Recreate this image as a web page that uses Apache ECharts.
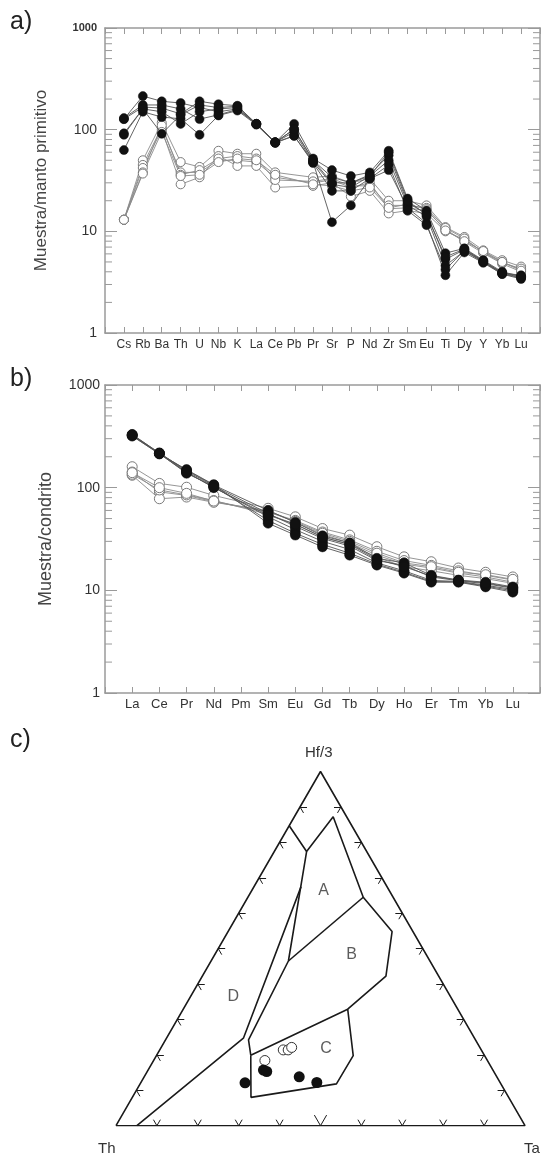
<!DOCTYPE html>
<html><head><meta charset="utf-8">
<script src="https://cdn.jsdelivr.net/npm/echarts@6/dist/echarts.min.js"></script>
<style>html,body{margin:0;padding:0;background:#fff}#c{width:543px;height:1158px}</style>
</head><body><div id="c"></div>
<script>
// ---------- Panel a: multielement diagram (normalised to primitive mantle) ----------
const CATS_A = ['Cs','Rb','Ba','Th','U','Nb','K','La','Ce','Pb','Pr','Sr','P','Nd','Zr','Sm','Eu','Ti','Dy','Y','Yb','Lu'];
const A_F1 = [127,214,190,183,165,150,160,114,75,114,52,40,35,38,62,21,16,6.1,6.8,5.2,4.0,3.6];
const A_F2 = [127,167,163,143,190,178,172,114,75,101,50,34,30,36,56,19,15,5.3,6.6,5.1,3.9,3.7];
const A_F3 = [89,160,150,114,150,160,165,114,75,87,48,29,27,35,50,18,14,4.6,6.4,5.0,3.9,3.5];
const A_F4 = [63,150,133,128,89,138,154,112,74,87,47,25,25,33,40,17,12,3.7,6.2,4.9,3.8,3.4];
const A_F5 = [130,175,175,160,127,140,158,114,75,95,48,12.3,18,33,45,16,11.5,4.2,6.5,5.0,3.8,3.5];
const A_F6 = [92,160,91,140,175,165,170,114,75,101,50,30,30,35,60,20,14.5,5.6,6.7,5.1,3.9,3.6];
const A_O1 = [13,50,117,48,43,62,58,58,38,null,34,35,30,33,20,20,18,11,8.8,6.5,5.2,4.5];
const A_O2 = [13,45,105,38,38,50,50,48,34,null,30,32,27,30,16.7,17,16,10.5,7.9,6.1,4.8,4.0];
const A_O3 = [13,42,100,29,34,55,44,44,27,null,28,30,22,25,15,16,15,10,8.3,6.3,5.0,4.2];
const A_O4 = [13,38,110,36,40,52,55,52,32,null,31,33,28,28,18,18,17,10.8,8.5,6.2,4.9,4.3];
const A_O5 = [13,37,95,35,36,48,52,50,36,null,29,28,25,27,17,18.5,16.5,10.2,8.0,6.4,5.0,4.1];

// ---------- Panel b: REE diagram (normalised to chondrite) ----------
const CATS_B = ['La','Ce','Pr','Nd','Pm','Sm','Eu','Gd','Tb','Dy','Ho','Er','Tm','Yb','Lu'];
const B_F1 = [325,216,148,106,null,60,46,34,29,20.5,18.5,14,12.6,12,10.8];
const B_F2 = [330,218,145,104,null,56,42,32,27,19.5,17.5,13.5,12.4,11.6,10.5];
const B_F3 = [320,214,140,101,null,52,39,30,25,18.5,15.5,12.5,12.2,11.2,10.2];
const B_F4 = [325,215,138,103,null,48,36,28,23,18,15,12.2,12.1,11,9.9];
const B_F5 = [318,213,150,107,null,45,34.5,26.5,22,17.6,14.7,12,12,10.8,9.6];
const B_F6 = [328,217,142,100,null,54,44,33,28,20,17,13.8,12.5,11.8,10.6];
const B_O1 = [160,110,101,84,null,63,52,40,34.5,26.6,21.2,19,16.5,15,13.5];
const B_O2 = [142,91,84,73,null,58,48,37,31,24,19.5,17.5,15.5,14,12.6];
const B_O3 = [132,78,81,72,null,60,46,35,29,22,18,16.5,14.7,13.5,12];
const B_O4 = [135,95,85,75,null,55,44,33,28,21,17,15.5,14,13,11.7];
const B_O5 = [140,100,88,74,null,58,47,36,30,23,18.5,17,15,14.2,12.8];

const MINOR_TICKS = [2,3,4,5,6,7,8,9,20,30,40,50,60,70,80,90,200,300,400,500,600,700,800,900];

// ---------- Panel c: Th - Hf/3 - Ta ternary (percent: [Th, Hf/3, Ta]) ----------
const TRIANGLE = [[100,0,0],[0,100,0],[0,0,100],[100,0,0]];
const BOUND_1 = [[15.3,84.7,0],[14.7,77.4,7.9],[3.3,87.2,9.5],[7.3,64.5,28.2],[5.1,54.8,40.1],[12.9,42.2,44.9],[26.9,32.9,40.2]];
const BOUND_2 = [[14.7,77.4,7.9],[34.6,46.5,18.9],[55.5,24.2,20.3],[57.1,19.9,23.0]];
const BOUND_3 = [[7.3,64.5,28.2],[34.6,46.5,18.9]];
const BOUND_4 = [[21.0,67.5,11.5],[56.5,24.7,18.8],[94.9,0,5.1]];
const BOUND_5 = [[57.1,19.9,23.0],[26.9,32.9,40.2],[32.1,19.8,48.1],[40.2,11.8,48.0],[63.0,8.0,29.0],[57.1,19.9,23.0]];
const FIELD_NAMES = ['A','B','C','D'];
const FIELD_POS = [[16.0,66.5,17.5],[18.3,48.2,33.5],[37.7,21.9,40.4],[53.1,36.4,10.5]];
const TERN_OPEN = [[54.4,18.4,27.2],[48.4,21.4,30.2],[47.2,21.4,31.4],[46.0,22.1,31.9]];
const TERN_FILLED = [[56.1,15.7,28.2],[55.5,15.3,29.2],[62.4,12.1,25.5],[48.3,13.8,37.9],[44.8,12.2,43.0]];
const TERN_STEPS = [10,20,30,40,50,60,70,80,90];

const SQ3 = Math.sqrt(3)/2;
function tern(t){ const s=t[0]+t[1]+t[2]; const hf=t[1]/s, ta=t[2]/s; return [ta+hf/2, hf*SQ3]; }

const FONT = 'Liberation Sans, Arial, sans-serif';
const AX = '#9a9a9a';

function seriesXY(arr){ return arr.map((v,i)=>[i+1, v]); }
function lineSeries(arr, filled, xi, yi, size){
  return {type:'line', xAxisIndex:xi, yAxisIndex:yi, data:seriesXY(arr), connectNulls:true,
    symbol:'circle', symbolSize:size, showSymbol:true, z: filled?4:3,
    lineStyle:{color: filled?'#555':'#8a8a8a', width:0.9},
    itemStyle: filled?{color:'#111', borderColor:'#111', borderWidth:0.5, opacity:1}:{color:'#fff', borderColor:'#7a7a7a', borderWidth:1, opacity:1}};
}
function minorTicks(xMax, xi, yi){
  return {type:'custom', xAxisIndex:xi, yAxisIndex:yi, silent:true, clip:false, z:2,
    data: MINOR_TICKS.map(v=>[0,v]),
    renderItem:function(params, api){
      const v = api.value(1);
      const p0 = api.coord([0, v]), p1 = api.coord([xMax, v]);
      return {type:'group', children:[
        {type:'line', shape:{x1:p0[0], y1:p0[1], x2:p0[0]+7, y2:p0[1]}, style:{stroke:AX, lineWidth:1}},
        {type:'line', shape:{x1:p1[0]-7, y1:p1[1], x2:p1[0], y2:p1[1]}, style:{stroke:AX, lineWidth:1}}
      ]};
    }};
}
function xAx(grid, max, cats, pos, fs, margin){
  return {type:'value', gridIndex:grid, position:pos, min:0, max:max, interval:1,
    axisLine:{show:true, onZero:false, lineStyle:{color:AX, width:1.5}},
    axisTick:{show:true, inside:true, length:6, lineStyle:{color:AX, width:1}},
    splitLine:{show:false},
    axisLabel:{show: pos==='bottom', fontFamily:FONT, fontSize:fs, color:'#333', margin:margin,
      formatter:function(v){ return cats[v-1] || ''; }}};
}
function yAx(grid, pos, name, nameGap, nameSize, labSize, margin, smallTop){
  return {type:'log', logBase:10, gridIndex:grid, position:pos, min:1, max:1000,
    axisLine:{show:true, onZero:false, lineStyle:{color:AX, width:1.5}},
    axisTick:{show:true, inside:true, length:12, lineStyle:{color:AX, width:1}},
    splitLine:{show:false}, minorTick:{show:false},
    name: pos==='left'?name:'', nameLocation:'middle', nameGap:nameGap, nameRotate:90,
    nameTextStyle:{fontFamily:FONT, fontSize:nameSize, color:'#444'},
    axisLabel:{show: pos==='left', fontFamily:FONT, fontSize:labSize, color:'#333', margin:margin,
      formatter:function(v){ return (smallTop && v===1000) ? '{s|1000}' : String(v); },
      rich:{s:{fontSize:11, fontFamily:FONT, color:'#333', fontWeight:'bold'}}}};
}

// ternary tick segments
const L = 0.017;
const tickSegs = [];
TERN_STEPS.forEach(p=>{
  const f = p/100;
  const lb = (p===50)?0.03:L;
  tickSegs.push({coords:[[f,0],[f-lb*0.5, lb*SQ3]]});
  tickSegs.push({coords:[[f,0],[f+lb*0.5, lb*SQ3]]});
  const lx = 0.5*f, ly = SQ3*f;
  tickSegs.push({coords:[[lx,ly],[lx+L, ly]]});
  tickSegs.push({coords:[[lx,ly],[lx+L*0.5, ly-L*SQ3]]});
  const rx = 1-0.5*f, ry = SQ3*f;
  tickSegs.push({coords:[[rx,ry],[rx-L, ry]]});
  tickSegs.push({coords:[[rx,ry],[rx-L*0.5, ry-L*SQ3]]});
});

function ternLine(arr){
  return {type:'line', xAxisIndex:4, yAxisIndex:4, data:arr.map(tern), symbol:'none', silent:true,
    lineStyle:{color:'#1a1a1a', width:1.6}, z:3};
}

const series = [];
[A_O1,A_O2,A_O3,A_O4,A_O5].forEach(a=>series.push(lineSeries(a,false,0,0,9)));
[A_F1,A_F2,A_F3,A_F4,A_F5,A_F6].forEach(a=>series.push(lineSeries(a,true,0,0,9)));
[B_O1,B_O2,B_O3,B_O4,B_O5].forEach(a=>series.push(lineSeries(a,false,2,2,10)));
[B_F1,B_F2,B_F3,B_F4,B_F5,B_F6].forEach(a=>series.push(lineSeries(a,true,2,2,10)));
series.push(minorTicks(23,0,0));
series.push(minorTicks(16,2,2));
[TRIANGLE,BOUND_1,BOUND_2,BOUND_3,BOUND_4,BOUND_5].forEach(a=>series.push(ternLine(a)));
series.push({type:'lines', coordinateSystem:'cartesian2d', xAxisIndex:4, yAxisIndex:4, silent:true,
  data:tickSegs, lineStyle:{color:'#1a1a1a', width:1, opacity:1}, z:3});
series.push({type:'scatter', xAxisIndex:4, yAxisIndex:4, silent:true, symbolSize:2, z:7,
  itemStyle:{color:'rgba(0,0,0,0)'},
  data: FIELD_NAMES.map((n,i)=>({name:n, value:tern(FIELD_POS[i])})),
  label:{show:true, position:'inside', formatter:function(p){return p.name;}, fontFamily:FONT, fontSize:16, color:'#333'}});
series.push({type:'scatter', xAxisIndex:4, yAxisIndex:4, silent:true, symbolSize:10, z:5,
  data: TERN_OPEN.map(tern), itemStyle:{color:'#fff', borderColor:'#333', borderWidth:1, opacity:1}});
series.push({type:'scatter', xAxisIndex:4, yAxisIndex:4, silent:true, symbolSize:11, z:6,
  data: TERN_FILLED.map(tern), itemStyle:{color:'#111', opacity:1}});

const option = {
  animation:false,
  backgroundColor:'#fff',
  grid:[
    {left:105, top:28, width:436, height:305},
    {left:105, top:385, width:436, height:308},
    {left:116, top:771.5, width:409, height:354.2}
  ],
  xAxis:[
    xAx(0,23,CATS_A,'bottom',12,6),
    xAx(0,23,CATS_A,'top',12,6),
    xAx(1,16,CATS_B,'bottom',13,5),
    xAx(1,16,CATS_B,'top',13,5),
    {type:'value', gridIndex:2, min:0, max:1, show:false}
  ],
  yAxis:[
    yAx(0,'left','Muestra/manto primitivo',55,17,14,8,true),
    yAx(0,'right','',0,17,14,8,false),
    yAx(1,'left','Muestra/condrito',50,18,14,5,false),
    yAx(1,'right','',0,18,14,5,false),
    {type:'value', gridIndex:2, min:0, max:SQ3, show:false}
  ],
  graphic:[
    {type:'text', left:10, top:10, style:{text:'a)', font:'25px '+FONT, fill:'#222'}},
    {type:'text', left:10, top:367, style:{text:'b)', font:'25px '+FONT, fill:'#222'}},
    {type:'text', left:10, top:728, style:{text:'c)', font:'25px '+FONT, fill:'#222'}},
    {type:'text', left:305, top:745, style:{text:'Hf/3', font:'15px '+FONT, fill:'#333'}},
    {type:'text', left:98, top:1141, style:{text:'Th', font:'15px '+FONT, fill:'#333'}},
    {type:'text', left:524, top:1141, style:{text:'Ta', font:'15px '+FONT, fill:'#333'}}
  ],
  series:series
};
const chart = echarts.init(document.getElementById('c'), null, {renderer:'canvas'});
chart.setOption(option);
</script></body></html>
